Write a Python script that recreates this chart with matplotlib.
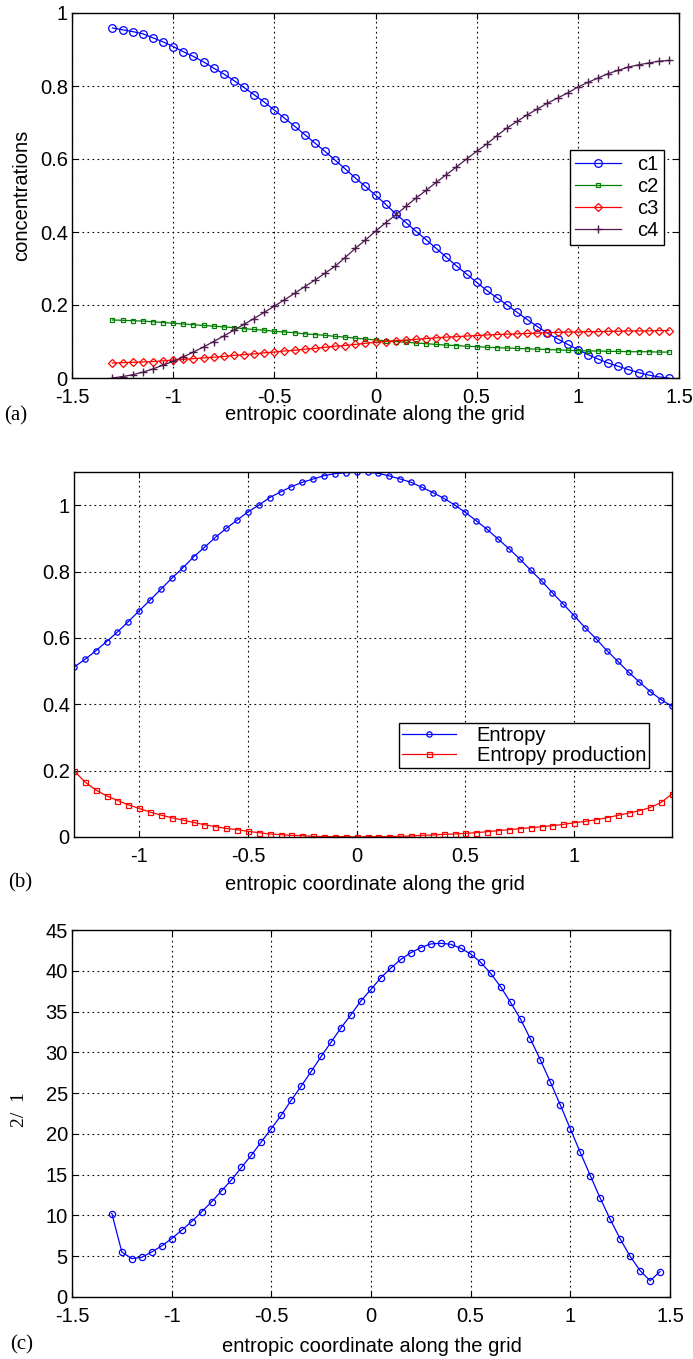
import numpy as np
import matplotlib

matplotlib.use("Agg")
import matplotlib.pyplot as plt  # noqa: E402

plt.rcParams['font.family'] = ['Liberation Sans', 'DejaVu Sans']
plt.rcParams['axes.unicode_minus'] = False

# grid points: -1.3 ... 1.45, step 0.05 (56 nodes)
x = np.round(np.arange(-1.3, 1.45 + 1e-9, 0.05), 2)

c1 = [0.959, 0.954, 0.949, 0.943, 0.932, 0.921, 0.908, 0.894, 0.881, 0.866,
      0.849, 0.833, 0.815, 0.796, 0.776, 0.756, 0.734, 0.712, 0.690, 0.667,
      0.644, 0.621, 0.597, 0.573, 0.548, 0.525, 0.501, 0.476, 0.450, 0.426,
      0.402, 0.379, 0.355, 0.331, 0.307, 0.285, 0.262, 0.240, 0.220, 0.200,
      0.180, 0.160, 0.141, 0.123, 0.107, 0.092, 0.078, 0.064, 0.052, 0.041,
      0.032, 0.023, 0.015, 0.008, 0.003, 0.000]
c2 = [0.159, 0.158, 0.157, 0.156, 0.154, 0.152, 0.150, 0.148, 0.146, 0.144,
      0.142, 0.140, 0.138, 0.135, 0.133, 0.131, 0.128, 0.126, 0.124, 0.121,
      0.119, 0.117, 0.114, 0.112, 0.109, 0.107, 0.104, 0.102, 0.100, 0.098,
      0.096, 0.094, 0.092, 0.090, 0.089, 0.087, 0.086, 0.084, 0.083, 0.082,
      0.081, 0.080, 0.079, 0.078, 0.077, 0.076, 0.075, 0.074, 0.074, 0.073,
      0.073, 0.072, 0.072, 0.072, 0.071, 0.071]
c3 = [0.041, 0.042, 0.043, 0.044, 0.045, 0.047, 0.049, 0.051, 0.053, 0.055,
      0.057, 0.059, 0.062, 0.064, 0.066, 0.069, 0.071, 0.074, 0.076, 0.079,
      0.081, 0.084, 0.087, 0.089, 0.092, 0.095, 0.098, 0.100, 0.102, 0.104,
      0.106, 0.108, 0.110, 0.112, 0.113, 0.115, 0.116, 0.118, 0.119, 0.120,
      0.121, 0.122, 0.123, 0.124, 0.125, 0.126, 0.126, 0.127, 0.127, 0.128,
      0.128, 0.129, 0.129, 0.129, 0.130, 0.130]
c4 = [0.000, 0.004, 0.009, 0.016, 0.025, 0.035, 0.046, 0.058, 0.071, 0.085,
      0.100, 0.115, 0.131, 0.147, 0.163, 0.180, 0.197, 0.214, 0.232, 0.250,
      0.268, 0.287, 0.306, 0.330, 0.355, 0.378, 0.402, 0.425, 0.447, 0.470,
      0.493, 0.514, 0.536, 0.557, 0.578, 0.600, 0.621, 0.641, 0.664, 0.685,
      0.703, 0.721, 0.737, 0.753, 0.767, 0.781, 0.797, 0.810, 0.822, 0.834,
      0.843, 0.852, 0.858, 0.863, 0.868, 0.870]

entropy = [0.512, 0.535, 0.561, 0.589, 0.618, 0.649, 0.682, 0.714, 0.747, 0.780,
           0.811, 0.844, 0.873, 0.903, 0.930, 0.955, 0.980, 1.000, 1.023, 1.040,
           1.056, 1.069, 1.079, 1.089, 1.095, 1.098, 1.099, 1.099, 1.096, 1.088,
           1.079, 1.069, 1.054, 1.038, 1.021, 1.001, 0.978, 0.953, 0.927, 0.898,
           0.869, 0.838, 0.804, 0.772, 0.736, 0.702, 0.667, 0.631, 0.598, 0.562,
           0.530, 0.497, 0.467, 0.438, 0.414, 0.394]
production = [0.200, 0.166, 0.142, 0.124, 0.110, 0.097, 0.086, 0.075, 0.066, 0.058,
              0.051, 0.044, 0.037, 0.031, 0.026, 0.022, 0.017, 0.013, 0.009, 0.007,
              0.005, 0.004, 0.002, 0.001, 0.001, 0.001, 0.000, 0.001, 0.001, 0.001,
              0.002, 0.003, 0.005, 0.006, 0.008, 0.009, 0.011, 0.013, 0.016, 0.019,
              0.022, 0.025, 0.028, 0.031, 0.034, 0.038, 0.043, 0.047, 0.052, 0.058,
              0.065, 0.072, 0.079, 0.089, 0.104, 0.130]

ratio = [10.23, 5.52, 4.70, 4.87, 5.52, 6.26, 7.16, 8.18, 9.25, 10.43,
         11.66, 13.01, 14.36, 15.88, 17.39, 19.03, 20.66, 22.30, 24.14, 25.86,
         27.66, 29.50, 31.26, 33.02, 34.63, 36.33, 37.72, 39.16, 40.34, 41.40,
         42.22, 42.84, 43.29, 43.37, 43.25, 42.76, 42.06, 41.04, 39.69, 38.05,
         36.13, 34.08, 31.63, 29.05, 26.35, 23.53, 20.62, 17.72, 14.89, 12.11,
         9.53, 7.12, 4.99, 3.23, 2.00, 3.11]

W, H = 693, 1359
FS = 14.5
fig = plt.figure(figsize=(W / 100, H / 100), dpi=100)


def px_axes(left, top, right, bottom):
    return fig.add_axes([left / W, 1 - bottom / H, (right - left) / W, (bottom - top) / H])


def style(ax):
    ax.grid(True, color='black', linestyle=(0, (1.5, 3)), linewidth=0.8)
    ax.tick_params(direction='in', labelsize=FS, length=4, width=0.8, top=True, right=True,
                   labeltop=False, labelright=False)
    ax.tick_params(axis='x', pad=7)
    ax.tick_params(axis='y', pad=3)
    for s in ax.spines.values():
        s.set_linewidth(1.0)


def fmt(v):
    return '%g' % v


def legend(ax, left, top, **kw):
    leg = ax.legend(loc='upper left', bbox_to_anchor=(left / W, 1 - top / H),
                    bbox_transform=fig.transFigure, frameon=True, fancybox=False,
                    edgecolor='black', framealpha=1, borderaxespad=0, **kw)
    leg.get_frame().set_linewidth(1.0)
    return leg


# (a) concentrations
ax = px_axes(72, 13, 679, 378)
ax.plot(x, c1, '-o', color='blue', ms=5.5, mfc='none', mew=0.9, lw=0.9, label='c1')
ax.plot(x, c2, '-s', color='green', ms=3.2, mfc='none', mew=0.9, lw=0.9, label='c2')
ax.plot(x, c3, '-D', color='red', ms=4.2, mfc='none', mew=0.9, lw=0.9, label='c3')
ax.plot(x, c4, '-+', color='#4e1a4e', ms=6, mew=1.0, lw=0.9, label='c4')
ax.set_xlim(-1.5, 1.5)
ax.set_ylim(0, 1)
xt = [-1.5, -1, -0.5, 0, 0.5, 1, 1.5]
ax.set_xticks(xt, [fmt(v) for v in xt])
yt = [0, 0.2, 0.4, 0.6, 0.8, 1]
ax.set_yticks(yt, [fmt(v) for v in yt])
style(ax)
ax.set_ylabel('concentrations', fontsize=FS, labelpad=6)
legend(ax, 570, 150, fontsize=FS, handlelength=2.3, borderpad=0.25, labelspacing=0.15,
       handletextpad=0.8)
fig.text(375 / W, 1 - 414 / H, 'entropic coordinate along the grid', ha='center', va='center', fontsize=FS)
fig.text(4 / W, 1 - 416 / H, '(a)', ha='left', va='center', fontsize=15, family='Liberation Serif')

# (b) entropy
ax = px_axes(74, 472, 672, 837)
ax.plot(x, entropy, '-o', color='blue', ms=3.8, mfc='none', mew=0.9, lw=0.9, label='Entropy')
ax.plot(x, production, '-s', color='red', ms=3.6, mfc='none', mew=0.9, lw=0.9, label='Entropy production')
ax.set_xlim(-1.3, 1.45)
ax.set_ylim(0, 1.1)
xt = [-1, -0.5, 0, 0.5, 1]
ax.set_xticks(xt, [fmt(v) for v in xt])
ax.set_yticks(yt, [fmt(v) for v in yt])
style(ax)
legend(ax, 399, 723, fontsize=FS, handlelength=2.7, borderpad=0.15, labelspacing=0.05,
       handletextpad=1.0)
fig.text(375 / W, 1 - 885 / H, 'entropic coordinate along the grid', ha='center', va='center', fontsize=FS)
fig.text(8 / W, 1 - 883 / H, '(b)', ha='left', va='center', fontsize=15, family='Liberation Serif')

# (c) ratio
ax = px_axes(72, 930, 670, 1297)
ax.plot(x, ratio, '-o', color='blue', ms=4.5, mfc='none', mew=0.9, lw=0.9)
ax.set_xlim(-1.5, 1.5)
ax.set_ylim(0, 45)
xt = [-1.5, -1, -0.5, 0, 0.5, 1, 1.5]
ax.set_xticks(xt, [fmt(v) for v in xt])
yt3 = list(range(0, 50, 5))
ax.set_yticks(yt3, [fmt(v) for v in yt3])
style(ax)
fig.text(20 / W, 1 - 1110 / H, '2/  1', ha='center', va='center', rotation=90, fontsize=14,
         family='Liberation Serif')
fig.text(372 / W, 1 - 1347 / H, 'entropic coordinate along the grid', ha='center', va='center', fontsize=FS)
fig.text(10 / W, 1 - 1345 / H, '(c)', ha='left', va='center', fontsize=15, family='Liberation Serif')

fig.savefig('out.png', dpi=100)
